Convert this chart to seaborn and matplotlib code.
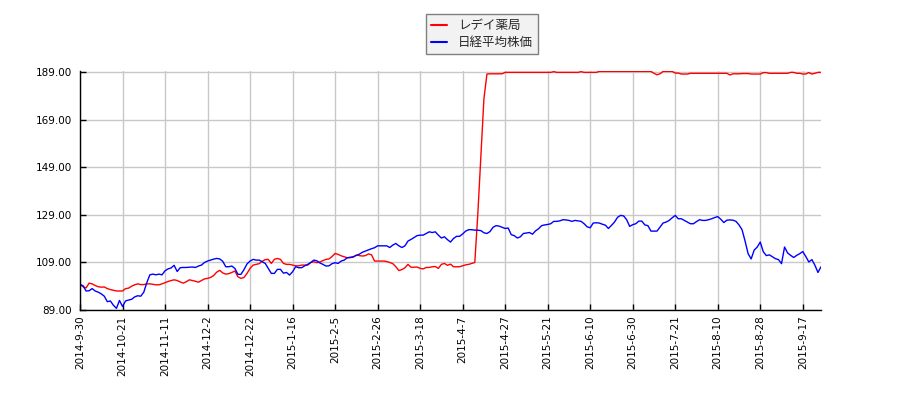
import matplotlib
matplotlib.use("Agg")
import matplotlib.pyplot as plt
import seaborn as sns
import pandas as pd
import numpy as np

# ---- data (x = trading-day index) ----
series_names = ["レデイ薬局", "日経平均株価"]

redei = [
    99.8, 98.8, 98.3, 100.3, 100.0, 99.3, 98.8, 98.6, 98.7, 98.0, 97.6, 97.3, 97.0, 97.0,
    97.0, 98.0, 98.2, 99.0, 99.6, 100.0, 99.7, 99.7, 100.0, 100.0, 99.8, 99.6, 99.6, 100.0,
    100.5, 101.0, 101.4, 101.7, 101.4, 100.8, 100.3, 100.9, 101.7, 101.4, 101.1, 100.7, 101.4, 102.1,
    102.3, 102.7, 103.5, 104.9, 105.7, 104.6, 104.1, 104.3, 104.8, 105.4, 103.0, 102.3, 102.7, 104.4,
    106.5, 107.9, 108.2, 108.5, 109.5, 110.2, 110.3, 108.6, 110.3, 110.7, 110.3, 108.6, 108.2, 108.2,
    107.9, 107.6, 107.6, 107.9, 107.9, 107.9, 109.0, 109.3, 108.9, 109.2, 109.8, 110.3, 110.5, 111.5,
    112.8, 112.4, 111.8, 111.4, 111.0, 111.0, 111.3, 112.1, 111.9, 111.7, 111.9, 112.6, 112.2, 109.6,
    109.6, 109.6, 109.6, 109.4, 109.0, 108.5, 107.2, 105.6, 106.0, 106.8, 108.2, 107.0, 107.0, 107.1,
    106.5, 106.3, 106.9, 106.9, 107.2, 107.3, 106.5, 108.2, 108.6, 107.8, 108.3, 107.2, 107.2, 107.2,
    107.6, 108.0, 108.2, 108.6, 109.0, 129.5, 153.3, 177.8, 188.3, 188.4, 188.4, 188.4, 188.4, 188.4,
    189.0, 189.0, 189.0, 189.0, 189.0, 189.0, 189.0, 189.0, 189.0, 189.0, 189.0, 189.0, 189.0, 189.0,
    189.0, 189.0, 189.3, 189.0, 189.0, 189.0, 189.0, 189.0, 189.0, 189.0, 189.0, 189.3, 189.0, 189.0,
    189.0, 189.0, 189.0, 189.4, 189.4, 189.4, 189.4, 189.4, 189.4, 189.4, 189.4, 189.4, 189.4, 189.4,
    189.4, 189.4, 189.4, 189.4, 189.4, 189.4, 189.4, 188.6, 188.0, 188.4, 189.4, 189.4, 189.4, 189.4,
    188.7, 188.7, 188.3, 188.3, 188.3, 188.6, 188.6, 188.6, 188.6, 188.6, 188.6, 188.6, 188.6, 188.6,
    188.6, 188.6, 188.6, 188.6, 187.9, 188.4, 188.4, 188.4, 188.5, 188.5, 188.5, 188.3, 188.3, 188.3,
    188.3, 188.9, 188.9, 188.6, 188.6, 188.6, 188.6, 188.6, 188.6, 188.6, 189.0, 189.0, 188.6, 188.6,
    188.3, 188.3, 188.9, 188.3, 188.6, 189.0, 189.0,
]

nikkei = [
    99.8, 99.2, 97.0, 97.1, 98.0, 97.0, 96.5, 95.8, 94.8, 92.5, 92.8, 91.0, 89.7, 93.0,
    90.5, 92.8, 93.2, 93.5, 94.5, 95.0, 94.8, 96.5, 100.5, 103.8, 104.1, 103.8, 104.1, 103.8,
    105.5, 106.3, 106.7, 107.8, 105.2, 106.8, 106.9, 106.9, 107.0, 107.1, 106.9, 107.5, 107.9, 109.0,
    109.6, 110.0, 110.4, 110.7, 110.5, 109.5, 107.2, 107.2, 107.5, 106.5, 104.0, 104.0, 106.0, 108.4,
    109.6, 110.3, 110.0, 110.0, 109.3, 108.6, 106.5, 104.4, 104.4, 106.1, 106.1, 104.5, 104.8, 103.7,
    105.1, 107.2, 106.8, 106.8, 107.6, 108.2, 109.0, 110.0, 109.7, 108.8, 108.2, 107.5, 107.6, 108.5,
    108.9, 108.6, 109.6, 110.0, 111.0, 111.2, 111.4, 112.0, 112.5, 113.3, 113.8, 114.3, 114.8, 115.2,
    116.0, 116.0, 116.0, 116.0, 115.3, 116.3, 117.0, 116.0, 115.3, 116.0, 118.0, 118.7, 119.5, 120.3,
    120.5, 120.5, 121.2, 121.9, 121.6, 121.9, 120.5, 119.3, 119.8, 118.6, 117.6, 119.1, 120.0, 120.0,
    121.0, 122.2, 122.8, 122.8, 122.6, 122.6, 122.4, 121.5, 121.2, 122.0, 123.8, 124.5, 124.3, 123.8,
    123.3, 123.5, 120.7, 120.3, 119.3, 119.8, 121.2, 121.4, 121.6, 120.9, 122.3, 123.2, 124.5, 124.8,
    125.0, 125.3, 126.3, 126.3, 126.5, 127.0, 126.9, 126.7, 126.3, 126.7, 126.5, 126.3, 125.3, 124.0,
    123.6, 125.6, 125.7, 125.6, 125.1, 124.7, 123.3, 124.6, 126.0, 128.0, 128.8, 128.6, 127.0, 124.2,
    124.9, 125.3, 126.4, 126.4, 124.8, 124.5, 122.2, 122.2, 122.2, 123.9, 125.6, 126.0, 126.7, 127.8,
    128.8, 127.4, 127.4, 126.7, 126.0, 125.3, 125.3, 126.2, 127.0, 126.7, 126.7, 127.0, 127.4, 127.9,
    128.3, 127.2, 125.8, 126.8, 126.9, 126.8, 126.3, 124.8, 122.8, 118.0, 112.7, 110.5, 114.2, 115.5,
    117.6, 113.5, 111.9, 112.2, 111.4, 110.6, 110.2, 108.5, 115.5, 113.0, 112.0, 111.1, 112.0, 112.7,
    113.6, 111.5, 109.2, 110.2, 107.8, 104.8, 107.2,
]

tick_labels = ["2014-9-30", "2014-10-21", "2014-11-11", "2014-12-2", "2014-12-22",
               "2015-1-16", "2015-2-5", "2015-2-26", "2015-3-18", "2015-4-7",
               "2015-4-27", "2015-5-21", "2015-6-10", "2015-6-30", "2015-7-21",
               "2015-8-10", "2015-8-28", "2015-9-17"]
tick_step = 14
y_ticks = [89, 109, 129, 149, 169, 189]

# ---- build table ----
days = np.arange(len(redei))
df = pd.concat([
    pd.DataFrame({"day": days, "value": redei, "series": series_names[0]}),
    pd.DataFrame({"day": np.arange(len(nikkei)), "value": nikkei, "series": series_names[1]}),
], ignore_index=True)

sns.set_theme(style="white")
plt.rcParams["font.family"] = ["DejaVu Sans", "Noto Sans CJK JP"]

fig = plt.figure(figsize=(9, 4), dpi=100)
ax = fig.add_axes([80 / 900, 1 - 310 / 400, (821 - 80) / 900, (310 - 70.7) / 400])

sns.lineplot(data=df, x="day", y="value", hue="series",
             palette={series_names[0]: "#ff0000", series_names[1]: "#0000ff"},
             linewidth=1.0, ax=ax, legend=True)

ax.set_xlim(0, len(redei) - 1)
ax.set_ylim(89, 189.7)
ax.set_xticks(np.arange(len(tick_labels)) * tick_step)
ax.set_xticklabels(tick_labels, rotation=90)
ax.set_yticks(y_ticks)
ax.set_yticklabels([f"{v:.2f}" for v in y_ticks])
ax.set_xlabel("")
ax.set_ylabel("")

ax.grid(True, color="#c8c8c8", linewidth=1.0)
ax.set_axisbelow(True)
for s in ["top", "right"]:
    ax.spines[s].set_visible(False)
for s in ["left", "bottom"]:
    ax.spines[s].set_color("black")
    ax.spines[s].set_linewidth(1.0)

ax.tick_params(axis="both", direction="in", length=4, width=1, colors="black",
               labelsize=7.5, left=True, bottom=True)
ax.tick_params(axis="y", pad=6)
ax.tick_params(axis="x", pad=4)

handles, labels = ax.get_legend_handles_labels()
leg = ax.legend(handles, labels, loc="upper center",
                bbox_to_anchor=(482 / 900, 1 - 14 / 400), bbox_transform=fig.transFigure,
                fontsize=9, frameon=True, fancybox=False, framealpha=1,
                handlelength=1.3, handletextpad=0.9, labelspacing=0.35,
                borderpad=0.4, borderaxespad=0)
leg.get_frame().set_edgecolor("#808080")
leg.get_frame().set_facecolor("#f2f2f2")
leg.get_frame().set_linewidth(1.0)
for h in leg.get_lines():
    h.set_linewidth(1.5)

fig.savefig("out.png", dpi=100)
